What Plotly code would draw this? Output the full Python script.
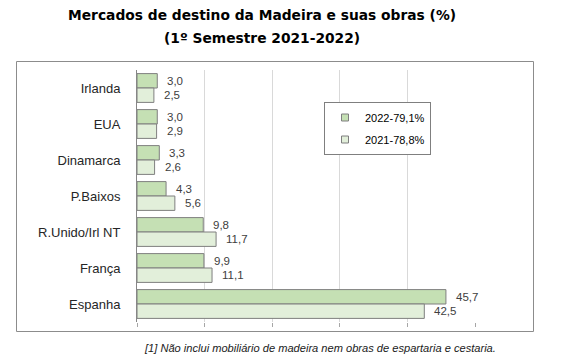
import plotly.graph_objects as go

categories = ["Irlanda", "EUA", "Dinamarca", "P.Baixos", "R.Unido/Irl NT", "França", "Espanha"]
values_2022 = [3.0, 3.0, 3.3, 4.3, 9.8, 9.9, 45.7]
values_2021 = [2.5, 2.9, 2.6, 5.6, 11.7, 11.1, 42.5]
series_names = ["2022-79,1%", "2021-78,8%"]
series_colors = ["#c5e0b4", "#e2efda"]
title_lines = ["Mercados de destino da Madeira e suas obras (%)", "(1º Semestre 2021-2022)"]
footnote = "[1] Não inclui mobiliário de madeira nem obras de espartaria e cestaria."

W, H = 561, 361
L, R, T, B = 137, 475, 70, 322  # plot area in pixels


def px(x):
    return (x - L) / (R - L)


def py(y):
    return (B - y) / (B - T)


fig = go.Figure()
for name, vals, col in zip(series_names, [values_2022, values_2021], series_colors):
    fig.add_trace(go.Bar(
        x=vals, y=categories, orientation="h", name=name, showlegend=False,
        marker=dict(color=col, line=dict(color="#7f7f7f", width=1)),
        hoverinfo="skip",
    ))
for i, (name, col) in enumerate(zip(series_names, series_colors)):
    fig.add_trace(go.Scatter(
        x=[None], y=[None], mode="markers", name=name, legendgroup=f"g{i}",
        marker=dict(symbol="square", size=7, color=col, line=dict(color="#7f7f7f", width=1)),
    ))

# data labels
for vals, ys in [(values_2022, 7.2), (values_2021, -7.2)]:
    for c, v in zip(categories, vals):
        fig.add_annotation(
            x=v, y=c, xref="x", yref="y", text=f"{v:.1f}".replace(".", ","),
            showarrow=False, xanchor="left", xshift=8, yshift=ys,
            font=dict(family="Liberation Sans", size=11.5, color="#404040"),
        )

# titles
for line, yy in zip(title_lines, [15, 38]):
    fig.add_annotation(x=px(261.5), y=py(yy), xref="paper", yref="paper",
                       text=f"<b>{line}</b>", showarrow=False, xanchor="center", yanchor="middle",
                       font=dict(family="DejaVu Sans", size=13.8, color="#000000"))
fig.add_annotation(x=px(498), y=py(348), xref="paper", yref="paper",
                   text=f"<i>{footnote}</i>", showarrow=False, xanchor="right", yanchor="middle",
                   font=dict(family="Liberation Sans", size=11.1, color="#1a1a1a"))

# outer chart border
fig.add_shape(type="rect", xref="paper", yref="paper",
              x0=px(16.5), x1=px(533.5), y0=py(331.5), y1=py(61.5),
              line=dict(color="#8c8c8c", width=1), fillcolor="rgba(0,0,0,0)", layer="below")

fig.update_layout(
    width=W, height=H,
    margin=dict(l=L, r=W - R, t=T, b=H - B, autoexpand=False),
    paper_bgcolor="white", plot_bgcolor="white",
    barmode="group", bargap=0.2, bargroupgap=0,
    font=dict(family="Liberation Sans", color="#262626"),
    legend=dict(x=px(324), y=py(102), xanchor="left", yanchor="top",
                bgcolor="white", bordercolor="#7f7f7f", borderwidth=1,
                font=dict(family="Liberation Sans", size=11, color="#000000"),
                tracegroupgap=3, traceorder="grouped", itemwidth=30),
    xaxis=dict(range=[0, 50], dtick=10, showgrid=True, gridcolor="#d9d9d9", gridwidth=1,
               zeroline=False, showticklabels=False, ticks="outside", ticklen=4,
               tickcolor="#a6a6a6", showline=False, fixedrange=True),
    yaxis=dict(categoryorder="array", categoryarray=categories, autorange="reversed",
               showline=True, linecolor="#868686", linewidth=1, ticks="",
               ticklabelstandoff=13, tickfont=dict(family="Liberation Sans", size=13, color="#262626"),
               fixedrange=True),
    showlegend=True,
)

fig.write_html("out.html", config={"displayModeBar": False},
               post_script="document.body.style.margin='0';document.body.style.overflow='hidden';")
